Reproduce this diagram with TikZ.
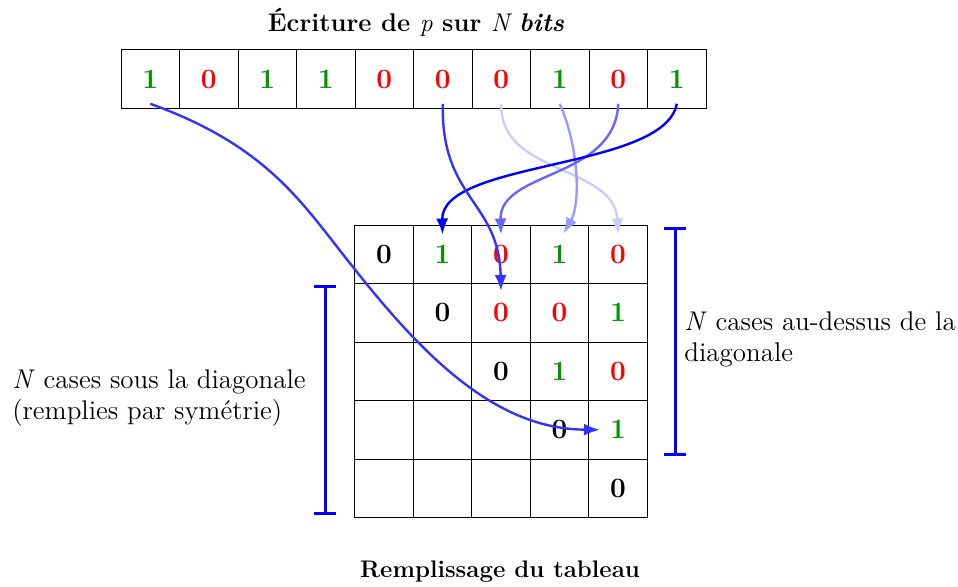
\documentclass[tikz,border=0pt]{standalone}
\usetikzlibrary{arrows.meta}
\definecolor{vert}{RGB}{0,150,0}
\begin{document}
\begin{tikzpicture}[x=0.5pt,y=-0.5pt,
  every node/.style={font=\fontsize{13.5pt}{15.5pt}\selectfont},
  cell/.style={draw,line width=0.5pt,minimum size=29.25pt,inner sep=0pt},
  digfont/.style={font=\fontsize{14pt}{16pt}\selectfont\bfseries},
  digit/.style={digfont,inner sep=0pt},
  headfont/.style={font=\fontsize{12pt}{15pt}\selectfont\bfseries},
  arr/.style={line width=1.2pt,-{Latex[length=8pt,width=6pt]}},
  brk/.style={draw=blue,line width=1.5pt,{Bar[width=11pt]}-{Bar[width=11pt]}},
  lbl/.style={align=left,anchor=west,inner sep=0pt}]
\useasboundingbox (0,0) rectangle (958,586);
% top row
\foreach \v/\c [count=\i from 0] in {1/vert,0/red,1/vert,1/vert,0/red,0/red,0/red,1/vert,0/red,1/vert}
  \node[cell,text=\c,digfont] (b\i) at ({150.25+58.5*\i},79) {\v};
% grid
\foreach \r in {0,...,4}
  \foreach \cc in {0,...,4}
    \node[cell] (g\r\cc) at ({384+58.5*\cc},{254.25+58.5*\r}) {};
% grid digits
\foreach \r/\cc/\v/\c in {0/0/0/black,0/1/1/vert,0/2/0/red,0/3/1/vert,0/4/0/red,
  1/1/0/black,1/2/0/red,1/3/0/red,1/4/1/vert,
  2/2/0/black,2/3/1/vert,2/4/0/red,
  3/3/0/black,3/4/1/vert,
  4/4/0/black}
  \node[digit,text=\c] (t\r\cc) at (g\r\cc) {\v};
% titles
\node[headfont,font=\fontsize{12.8pt}{15pt}\selectfont\bfseries] (title) at (416,22) {Écriture de {\mdseries\itshape p} sur {\mdseries\itshape N} \textit{bits}};
\node[headfont] (bottom) at (500,572) {Remplissage du tableau};
% labels
\node[lbl] (left) at (12,398) {\textit{N} cases sous la diagonale\\(remplies par symétrie)};
\node[lbl] (right) at (684,339) {\textit{N} cases au-dessus de la\\diagonale};
% brackets
\coordinate (lt) at (325,285); \coordinate (lb) at (325,515);
\coordinate (rt) at (675,227); \coordinate (rb) at (675,456);
\draw[brk] (lt) -- (lb);
\draw[brk] (rt) -- (rb);
% arrows
\draw[arr,blue!20] ([yshift=2.5pt]b6.south) .. controls (499,175) and (615,165) .. ([yshift=-5pt]g04.north);
\draw[arr,blue!40] ([yshift=2.5pt]b7.south) .. controls (580,150) and (580,205) .. ([xshift=2pt,yshift=-4.5pt]g03.north);
\draw[arr,blue!60] ([yshift=2.5pt]b8.south) .. controls (615,180) and (499,170) .. ([yshift=-5pt]g02.north);
\draw[arr,blue] ([yshift=2.5pt]b9.south) .. controls (665,170) and (441,160) .. ([yshift=-5pt]g01.north);
\draw[arr,blue!80] ([yshift=2.5pt]b5.south) .. controls (441,200) and (499,200) .. ([yshift=-4pt]g12.north);
\coordinate (mid0) at (353,267);
\draw[arr,blue!80] ([yshift=2.5pt]b0.south) .. controls (270,147) and (303,205) .. (mid0)
  .. controls (427,361) and (498,429) .. ([xshift=-9pt]g34.center);
\end{tikzpicture}
\end{document}
